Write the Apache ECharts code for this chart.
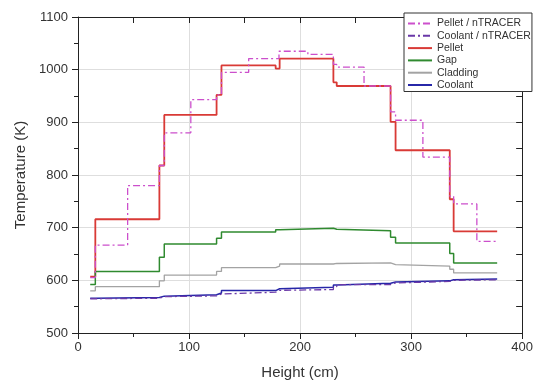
<!DOCTYPE html>
<html><head><meta charset="utf-8">
<script src="https://cdn.jsdelivr.net/npm/echarts@6/dist/echarts.min.js"></script>
<style>html,body{margin:0;padding:0;background:#fff}#c{width:536px;height:385px}</style>
</head><body><div id="c"></div>
<script>
// segment boundaries (cm) for the solid series and Coolant / nTRACER
const segX = [11, 15.6, 73.3, 77.7, 124.8, 129.2, 178, 181.6, 230, 233, 281.5, 286, 334.8, 338.3, 377.5];
const pellet   = [607, 716, 818, 914, 952, 1008, 1002, 1021, 976, 969, 901, 847, 754, 693];
const gap      = [592, 617, 644, 669, 680, 692, 696, 699, 697, 694, 682, 671, 651, 633];
const cladding = [580, 588, 599, 610, 617, 624, 627, 631, 632, 633, 630, 627, 621, 614];
const coolant  = [566, 567.5, 570, 572.5, 576, 580.5, 584, 587, 591, 594.5, 597, 599, 601, 602.5];
const coolantNT = [565, 566, 569, 570.5, 574, 577.5, 581, 582.5, 588, 592, 595, 598, 600, 601];
// segment boundaries (cm) for Pellet / nTRACER
const ntX = [11, 15.6, 44.7, 73.3, 77.7, 101.6, 124.8, 129.2, 153.7, 181, 207, 230, 233, 257.6, 281.5, 286, 310.6, 334.8, 338.3, 359.2, 377.5];
const pelletNT = [605, 667, 780, 818, 880, 943, 952, 995, 1021, 1035, 1029, 1010, 1005, 969, 920, 904, 834, 760, 745, 674];
const xTicks = [0, 100, 200, 300, 400];
const yTicks = [500, 600, 700, 800, 900, 1000, 1100];
const names = ['Pellet / nTRACER', 'Coolant / nTRACER', 'Pellet', 'Gap', 'Cladding', 'Coolant'];

function steps(xs, vs) {
  const pts = vs.map((v, i) => [xs[i], v]);
  pts.push([xs[xs.length - 1], vs[vs.length - 1]]);
  return pts;
}
const FONT = 'Liberation Sans, Arial, sans-serif';
const DASHDOT = [7, 3, 2, 3];
function ser(name, data, color, width, type, z) {
  return { name, type: 'line', step: 'end', symbol: 'none', showSymbol: false, data, z,
    lineStyle: { color, width, type }, itemStyle: { color }, animation: false };
}
const plain = v => String(v);
const axisLineStyle = { color: '#222', width: 1 };
const chart = echarts.init(document.getElementById('c'), null, { renderer: 'canvas' });
chart.setOption({
  animation: false,
  backgroundColor: '#fff',
  grid: { left: 78, right: 6, top: 17, bottom: 48, containLabel: false },
  legend: {
    data: names, orient: 'vertical', left: 404, top: 13,
    itemWidth: 24, itemHeight: 10, itemGap: 1.3,
    padding: [5, 1, 1, 3], borderColor: '#333', borderWidth: 1, backgroundColor: '#fff',
    itemStyle: { opacity: 0 },
    textStyle: { fontSize: 10.5, color: '#333', fontFamily: FONT, lineHeight: 11 },
    z: 10
  },
  xAxis: [{
    type: 'value', min: xTicks[0], max: xTicks[xTicks.length - 1], interval: 100, position: 'bottom',
    name: 'Height (cm)', nameLocation: 'middle', nameGap: 32,
    nameTextStyle: { fontSize: 15, color: '#333', fontFamily: FONT },
    axisLine: { show: true, onZero: false, lineStyle: axisLineStyle },
    axisTick: { show: true, length: 6, lineStyle: axisLineStyle },
    minorTick: { show: true, splitNumber: 2, length: 4, lineStyle: axisLineStyle },
    axisLabel: { fontSize: 13, color: '#333', fontFamily: FONT, margin: 8, formatter: plain },
    splitLine: { show: true, lineStyle: { color: '#dedede', width: 1 } }
  }, {
    type: 'value', min: 0, max: 400, interval: 100, position: 'top',
    axisLine: { show: true, onZero: false, lineStyle: axisLineStyle },
    axisTick: { show: true, inside: true, length: 6, lineStyle: axisLineStyle },
    minorTick: { show: true, splitNumber: 2, length: 6, lineStyle: axisLineStyle },
    axisLabel: { show: false }, splitLine: { show: false }
  }],
  yAxis: [{
    type: 'value', min: yTicks[0], max: yTicks[yTicks.length - 1], interval: 100, position: 'left',
    name: 'Temperature (K)', nameLocation: 'middle', nameGap: 49, nameRotate: 90,
    nameTextStyle: { fontSize: 15, color: '#333', fontFamily: FONT },
    axisLine: { show: true, onZero: false, lineStyle: axisLineStyle },
    axisTick: { show: true, length: 6, lineStyle: axisLineStyle },
    minorTick: { show: true, splitNumber: 2, length: 4, lineStyle: axisLineStyle },
    axisLabel: { fontSize: 13, color: '#333', fontFamily: FONT, margin: 10, formatter: plain },
    splitLine: { show: true, lineStyle: { color: '#dedede', width: 1 } }
  }, {
    type: 'value', min: 500, max: 1100, interval: 100, position: 'right',
    axisLine: { show: true, onZero: false, lineStyle: axisLineStyle },
    axisTick: { show: true, inside: true, length: 6, lineStyle: axisLineStyle },
    minorTick: { show: true, splitNumber: 2, length: 6, lineStyle: axisLineStyle },
    axisLabel: { show: false }, splitLine: { show: false }
  }],
  series: [
    ser(names[2], steps(segX, pellet), '#d93a36', 1.8, 'solid', 2),
    ser(names[3], steps(segX, gap), '#2f8a2f', 1.5, 'solid', 2),
    ser(names[4], steps(segX, cladding), '#a3a3a3', 1.3, 'solid', 2),
    ser(names[0], steps(ntX, pelletNT), '#cc4fcc', 1.3, DASHDOT, 3),
    ser(names[5], steps(segX, coolant), '#2727a8', 1.5, 'solid', 2),
    ser(names[1], steps(segX, coolantNT), '#6a38a8', 1.3, DASHDOT, 3)
  ]
});
</script></body></html>
